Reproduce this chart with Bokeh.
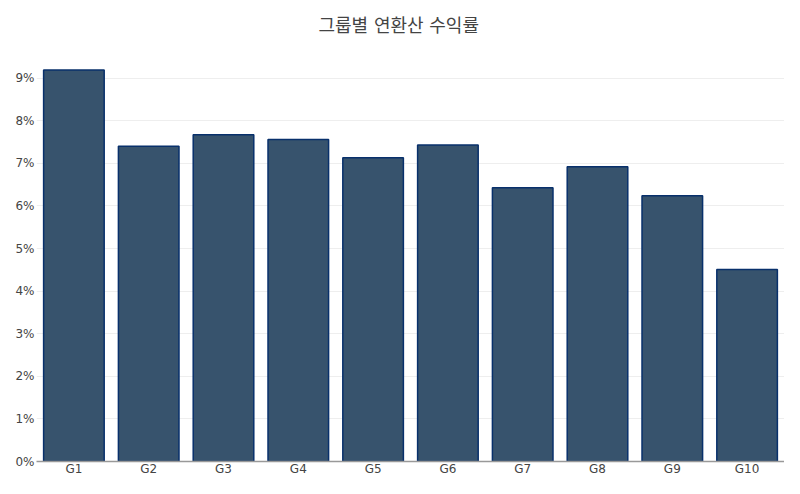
from bokeh.plotting import figure
from bokeh.models import ColumnDataSource, NumeralTickFormatter, Range1d, SingleIntervalTicker
from bokeh.embed import file_html
from bokeh.resources import INLINE

groups = ["G1", "G2", "G3", "G4", "G5", "G6", "G7", "G8", "G9", "G10"]
returns = [0.0919, 0.0740, 0.0767, 0.0756, 0.0713, 0.0743, 0.0643, 0.0692, 0.0624, 0.0451]
title_text = "그룹별 연환산 수익률"

FONT = "DejaVu Sans, Noto Sans CJK KR, sans-serif"

src = ColumnDataSource(dict(g=groups, r=returns))

p = figure(x_range=groups, width=784, height=478, output_backend="svg",
           toolbar_location=None, title=title_text,
           min_border_left=36, min_border_right=0, min_border_top=50, min_border_bottom=0)
p.y_range = Range1d(0, 0.0965)

p.vbar(x="g", top="r", width=0.81, source=src, fill_color="#37536d",
       line_color="#08306b", line_width=1.5)

p.title.align = "left"
p.title.vertical_align = "top"
p.title.text_font = FONT
p.title.text_font_size = "18px"
p.title.text_font_style = "normal"
p.title.text_color = "#444444"
p.title.offset = 282
p.title.standoff = 26

p.outline_line_color = None
p.background_fill_color = "white"
p.border_fill_color = "white"

p.yaxis.ticker = SingleIntervalTicker(interval=0.01)
p.yaxis.formatter = NumeralTickFormatter(format="0%")
p.yaxis.axis_line_color = None
p.yaxis.major_tick_line_color = None
p.yaxis.minor_tick_line_color = None
p.yaxis.major_tick_out = 0
p.yaxis.major_tick_in = 0
p.yaxis.minor_tick_out = 0
p.yaxis.major_label_text_font = FONT
p.yaxis.major_label_text_font_size = "12px"
p.yaxis.major_label_text_color = "#444444"
p.yaxis.major_label_standoff = 2

p.xaxis.axis_line_color = "#999999"
p.xaxis.axis_line_width = 1.5
p.xaxis.major_tick_line_color = None
p.xaxis.minor_tick_line_color = None
p.xaxis.major_tick_out = 0
p.xaxis.major_tick_in = 0
p.xaxis.minor_tick_out = 0
p.xaxis.major_label_text_font = FONT
p.xaxis.major_label_text_font_size = "12px"
p.xaxis.major_label_text_color = "#444444"
p.xaxis.major_label_standoff = 0

p.xgrid.grid_line_color = None
p.ygrid.grid_line_color = "#eeeeee"
p.ygrid.grid_line_width = 1
p.x_range.range_padding = 0.0
p.x_range.factor_padding = 0.0

open("out.html", "w").write(file_html(p, INLINE))
